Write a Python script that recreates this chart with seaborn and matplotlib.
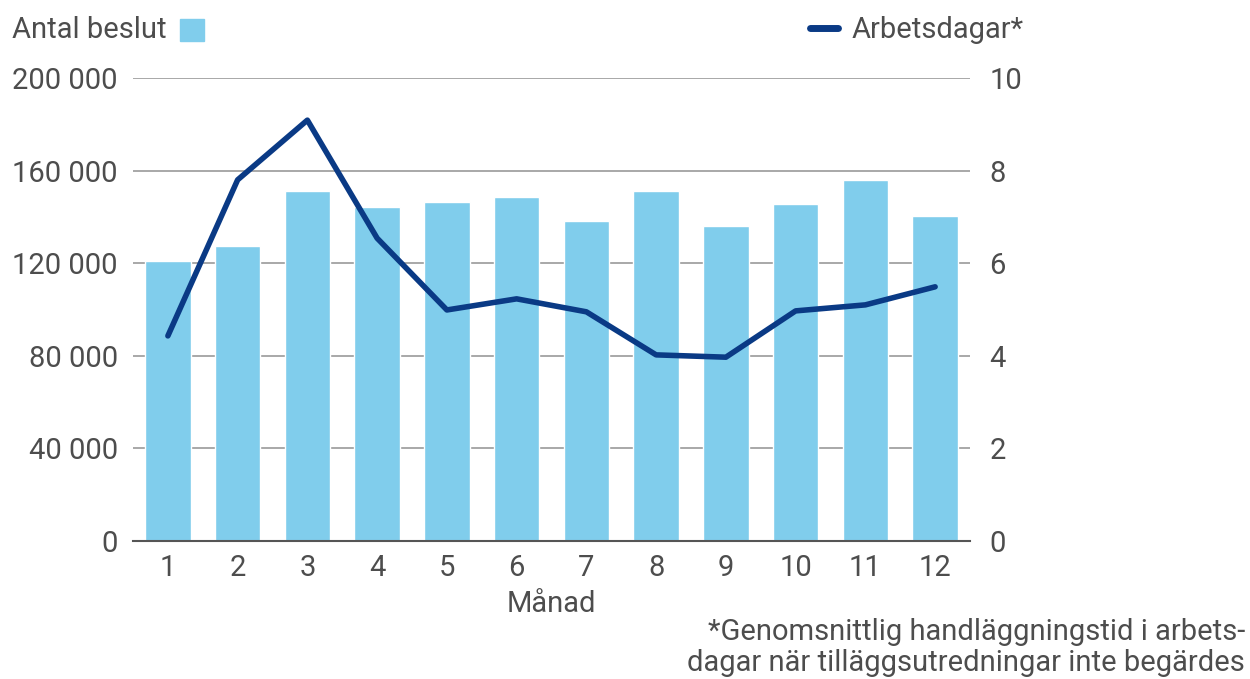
import matplotlib
matplotlib.use("Agg")
import matplotlib.pyplot as plt
from matplotlib.patches import Rectangle
from matplotlib.lines import Line2D
import seaborn as sns
import pandas as pd

months = ["1", "2", "3", "4", "5", "6", "7", "8", "9", "10", "11", "12"]
antal_beslut = [121000, 127400, 151200, 144300, 146400, 148600, 138200, 151200, 136100, 145600, 155900, 140400]
arbetsdagar = [4.43, 7.8, 9.09, 6.54, 4.99, 5.23, 4.95, 4.02, 3.97, 4.97, 5.1, 5.49]
left_ticks = [0, 40000, 80000, 120000, 160000, 200000]
left_labels = ["0", "40 000", "80 000", "120 000", "160 000", "200 000"]
right_ticks = [0, 2, 4, 6, 8, 10]

BAR = "#80CDEC"
LINE = "#0A3A85"
TXT = "#4d4d4d"
FS = 21

sns.set_theme(style="white")
plt.rcParams["font.family"] = ["Roboto", "DejaVu Sans"]

df = pd.DataFrame({"Månad": months, "beslut": antal_beslut, "dagar": arbetsdagar})

fig = plt.figure(figsize=(12.5, 6.79), dpi=100)
ax = fig.add_axes([133/1250, 1-541/679, (970-133)/1250, (541-78)/679])

sns.barplot(data=df, x="Månad", y="beslut", color=BAR, width=0.65, ax=ax,
            saturation=1, zorder=2)
ax.set_ylim(0, 200000)
ax.set_yticks(left_ticks)
ax.set_yticklabels(left_labels)
for y in left_ticks[1:]:
    ax.axhline(y, color="#999999", lw=1.2, zorder=1)
ax.set_xlim(-0.5, 11.5)
for s in ["top", "right", "left"]:
    ax.spines[s].set_visible(False)
ax.spines["bottom"].set_color("#555555")
ax.spines["bottom"].set_linewidth(1.5)
ax.spines["bottom"].set_zorder(3)
ax.tick_params(axis="both", length=0, labelsize=FS, labelcolor=TXT, pad=9)
ax.tick_params(axis="y", pad=11)
ax.set_xlabel("Månad", fontsize=FS, color=TXT, labelpad=6)
ax.set_ylabel("")

ax2 = ax.twinx()
sns.lineplot(x=list(range(len(months))), y=arbetsdagar, color=LINE, lw=4, ax=ax2,
             solid_capstyle="round", solid_joinstyle="round")
ax2.set_ylim(0, 10)
ax2.set_yticks(right_ticks)
ax2.set_yticklabels([str(t) for t in right_ticks])
for s in ["top", "right", "left", "bottom"]:
    ax2.spines[s].set_visible(False)
ax2.tick_params(axis="y", length=0, labelsize=FS, labelcolor=TXT, pad=14)
ax2.set_ylabel("")
ax2.grid(False)

# legend texts
fig.text(12/1250, 1-30/679, "Antal beslut", fontsize=FS, color=TXT, va="center", ha="left")
fig.patches.append(Rectangle((180/1250, 1-41/679), 24/1250, 22/679,
                             transform=fig.transFigure, color=BAR, figure=fig))
fig.lines.append(Line2D([810/1250, 838/1250], [1-28/679, 1-28/679], transform=fig.transFigure,
                        color=LINE, lw=5, solid_capstyle="round", figure=fig))
fig.text(852/1250, 1-30/679, "Arbetsdagar*", fontsize=FS, color=TXT, va="center", ha="left")

fig.text(1245/1250, 1-632/679, "*Genomsnittlig handläggningstid i arbets-",
         fontsize=FS, color=TXT, va="center", ha="right")
fig.text(1245/1250, 1-663/679, "dagar när tilläggsutredningar inte begärdes",
         fontsize=FS, color=TXT, va="center", ha="right")

fig.savefig("out.png", dpi=100)
